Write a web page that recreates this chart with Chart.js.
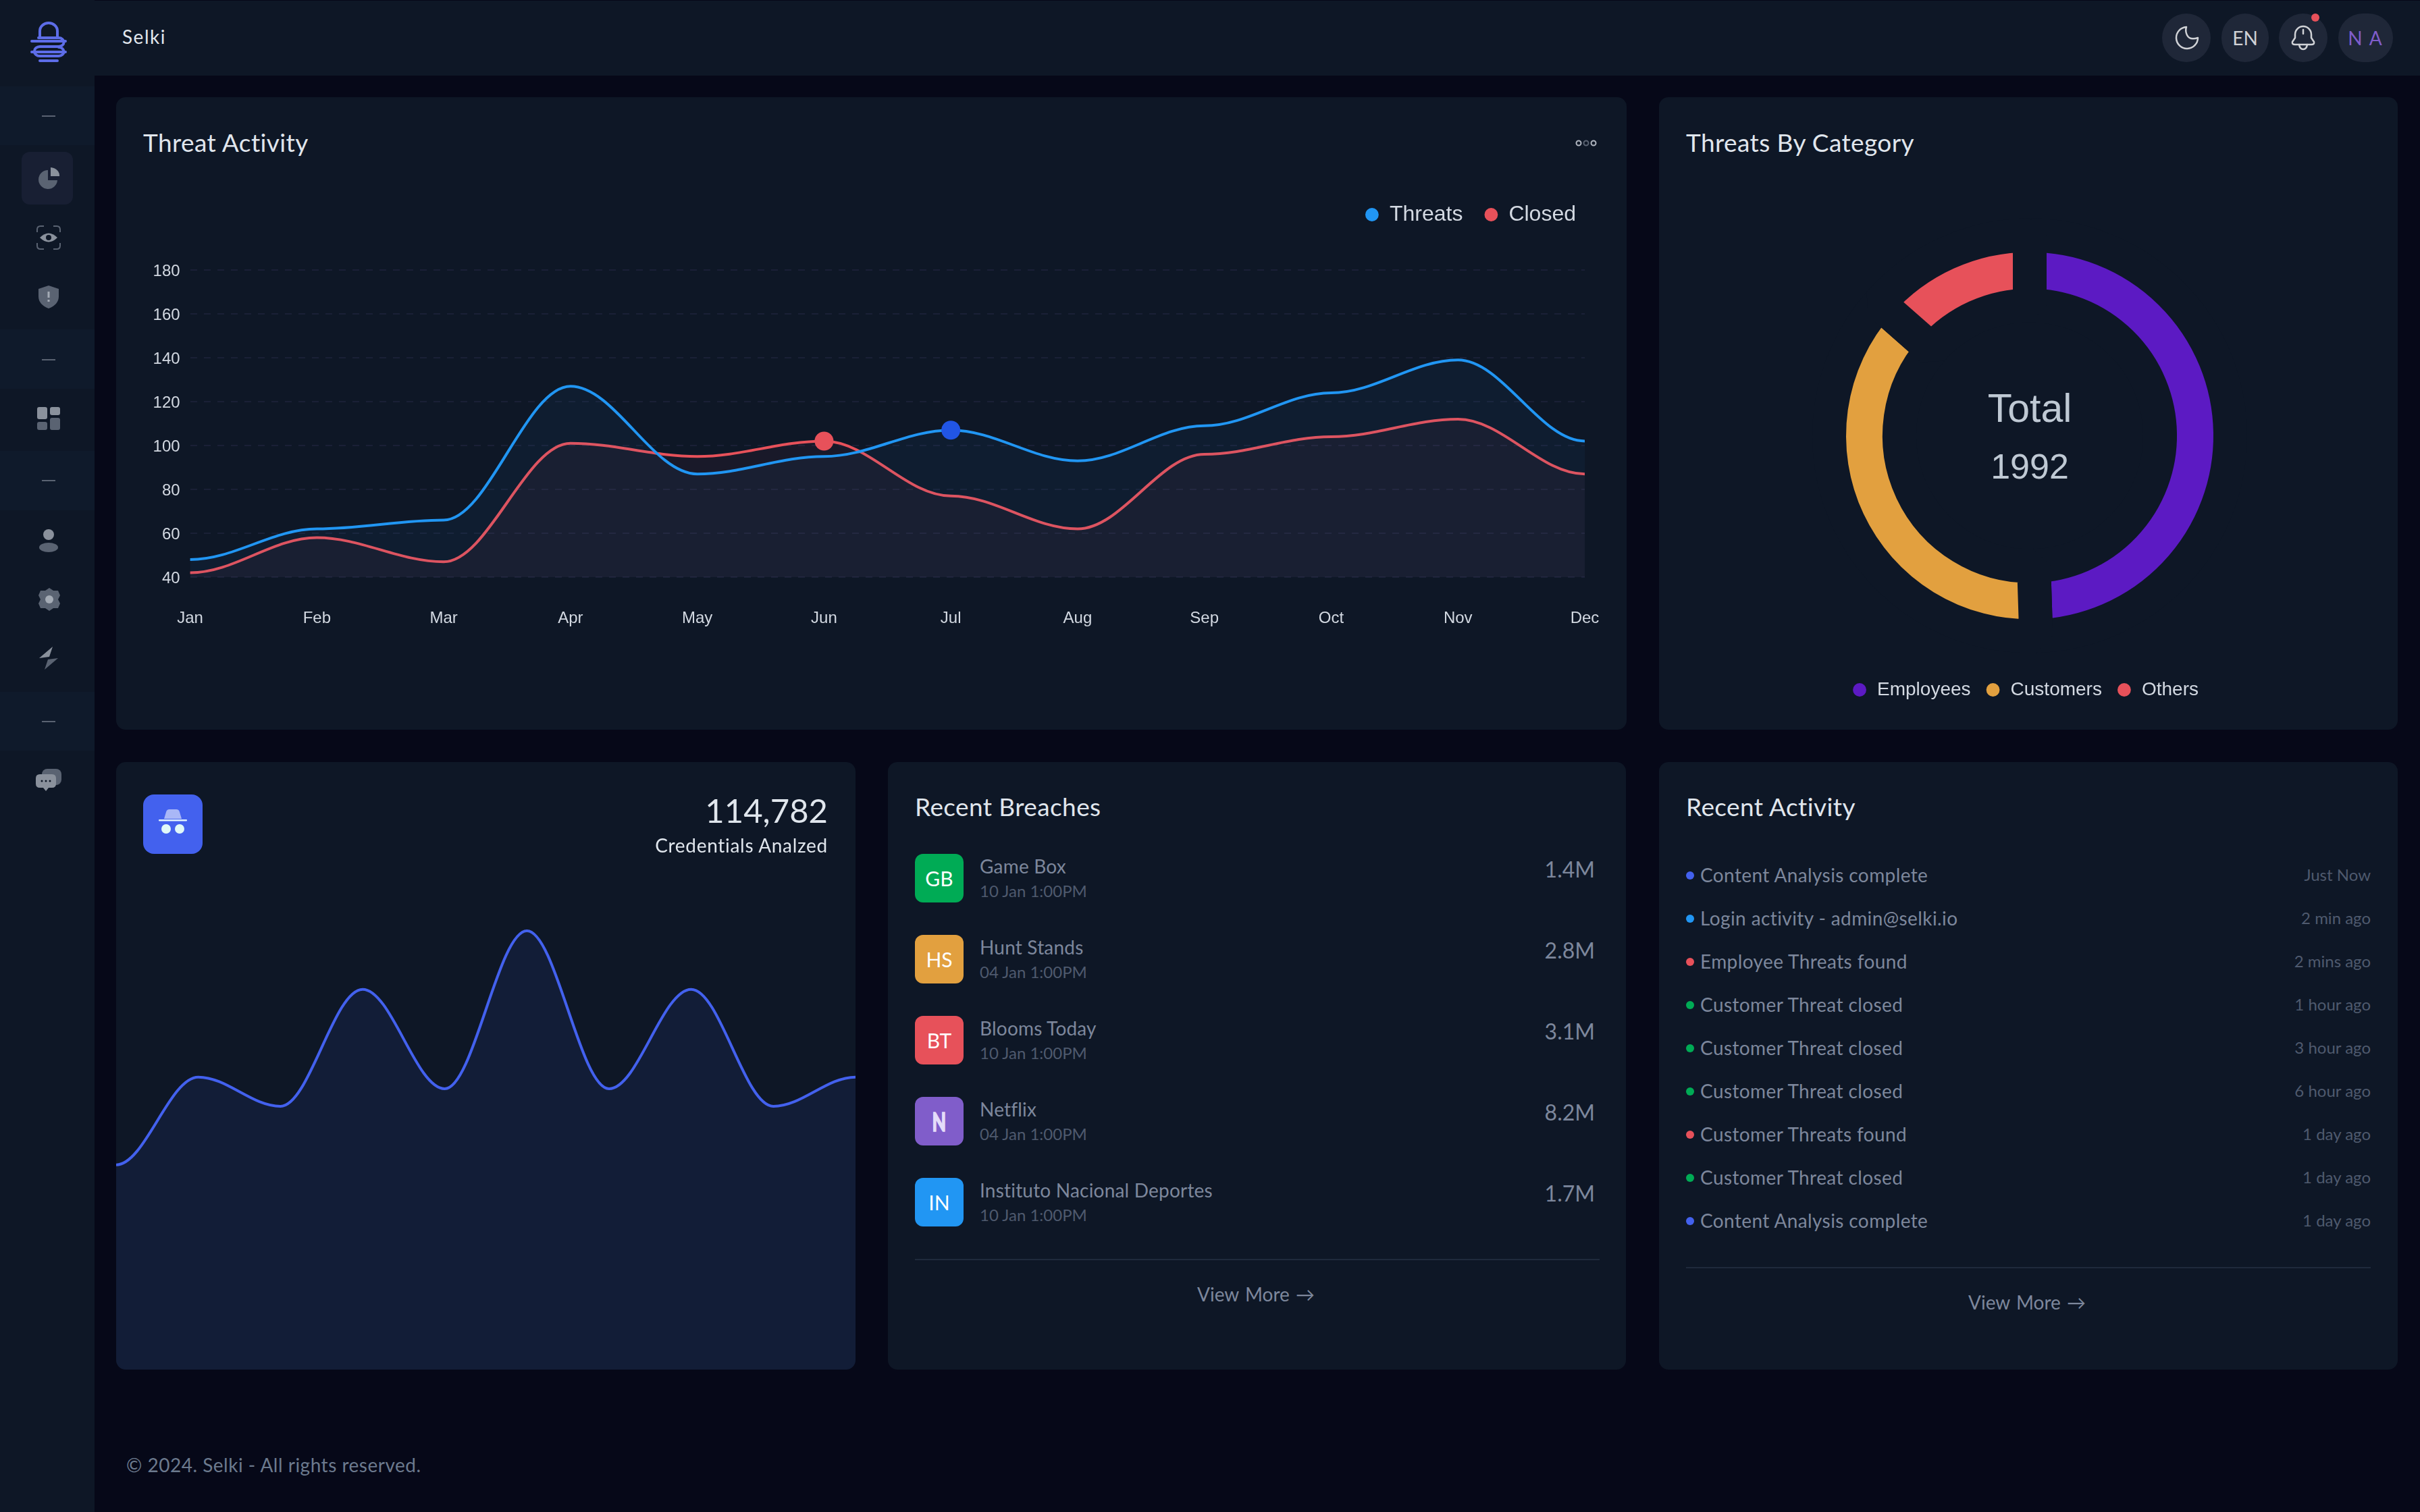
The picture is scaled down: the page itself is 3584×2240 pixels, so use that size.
<!DOCTYPE html>
<html>
<head>
<meta charset="utf-8">
<title>Selki</title>
<script src="https://cdn.jsdelivr.net/npm/chart.js@4"></script>
<style>
  html, body { margin: 0; padding: 0; background: #060818; }
  body { width: 3584px; height: 2240px; position: relative; overflow: hidden; font-family: Lato, sans-serif; color: #7d879c; }
  .abs { position: absolute; white-space: nowrap; line-height: 1; }
  .vc { transform: translateY(calc(-50% - 2px)); }
  .rt { transform: translate(-100%, calc(-50% - 2px)); }
  .ctr { transform: translate(-50%, calc(-50% - 2px)); }
  .card { position: absolute; background: #0e1726; border-radius: 14px; overflow: hidden; }
  .title { font-size: 37px; color: #e0e6ed; letter-spacing: .4px; }
  canvas { position: absolute; display: block; }
  .badge { position: absolute; left: 1355px; width: 72px; height: 72px; border-radius: 12px; color: #fff; font-size: 30px; display: flex; align-items: center; justify-content: center; }
  .dot { position: absolute; width: 12px; height: 12px; border-radius: 50%; transform: translate(-50%, -50%); }
  .sep { position: absolute; height: 2px; background: #1f2a3c; }
  .band { position: absolute; left: 0; width: 140px; background: #0f1a2b; }
  .dash { position: absolute; left: 62px; width: 20px; height: 2px; background: #5a6372; }
  .round { position: absolute; top: 20px; height: 72px; background: #1f2738; border-radius: 36px; color: #d0d2d6; display: flex; align-items: center; justify-content: center; font-size: 28px; }
  svg { position: absolute; overflow: visible; }
</style>
</head>
<body>

<!-- header + sidebar -->
<div style="position:absolute;left:0;top:0;width:140px;height:2240px;background:#0e1726"></div>
<div style="position:absolute;left:140px;top:1px;width:3444px;height:111px;background:#0e1726"></div>
<div class="band" style="top:128px;height:87px"></div>
<div class="band" style="top:488px;height:88px"></div>
<div class="band" style="top:668px;height:88px"></div>
<div class="band" style="top:1025px;height:87px"></div>
<div class="dash" style="top:171px"></div>
<div class="dash" style="top:532px"></div>
<div class="dash" style="top:711px"></div>
<div class="dash" style="top:1068px"></div>
<div style="position:absolute;left:32px;top:225px;width:76px;height:78px;background:#181f33;border-radius:12px"></div>

<svg style="left:45px;top:32px" width="54" height="62" viewBox="0 0 54 62" fill="none" stroke="#5d6de8" stroke-width="4" stroke-linecap="round">
  <path d="M14 24V14a13 12 0 0 1 26 0v10"/>
  <path d="M2 29h50M2 45h50"/>
  <path d="M12 24h30a7 6 0 0 1 0 13H14a7 6 0 0 0 0 14h28a7 6 0 0 0 0-13"/>
  <path d="M14 58h26"/>
</svg>
<!-- sidebar icons -->
<svg style="left:55px;top:248px" width="34" height="32" viewBox="0 0 34 32"><path d="M16 4a14 14 0 1 0 14 15H16z" fill="#5a6372"/><path d="M20 0a14 12 0 0 1 13 13H20z" fill="#8a919c"/></svg>
<svg style="left:54px;top:334px" width="36" height="36" viewBox="0 0 36 36" fill="none"><path d="M1 10V6q0-5 5-5h5M25 1h5q5 0 5 5v4M1 26v4q0 5 5 5h5M25 35h5q5 0 5-5v-4" stroke="#5a6372" stroke-width="2"/><path d="M5 18q13-13 26 0q-13 13-26 0z" fill="#8a919c"/><circle cx="18" cy="18" r="4" fill="#0e1726"/></svg>
<svg style="left:57px;top:423px" width="30" height="34" viewBox="0 0 30 34"><path d="M15 0l15 5v11q0 12-15 18Q0 28 0 16V5z" fill="#5a6372"/><rect x="13.5" y="9" width="3" height="9" fill="#a4abb5"/><rect x="13.5" y="21" width="3" height="3" fill="#a4abb5"/></svg>
<svg style="left:55px;top:603px" width="34" height="34" viewBox="0 0 34 34"><rect x="0" y="0" width="15" height="18" rx="3" fill="#8a919c"/><rect x="0" y="22" width="15" height="12" rx="3" fill="#5a6372"/><rect x="19" y="0" width="15" height="12" rx="3" fill="#8a919c"/><rect x="19" y="16" width="15" height="18" rx="3" fill="#5a6372"/></svg>
<svg style="left:58px;top:784px" width="28" height="34" viewBox="0 0 28 34"><circle cx="14" cy="8" r="8" fill="#8a919c"/><ellipse cx="14" cy="27" rx="14" ry="7" fill="#5a6372"/></svg>
<svg style="left:56px;top:871px" width="34" height="34" viewBox="0 0 34 34"><path d="M17 0l6 4 7 0 3 7-3 6 3 6-3 7-7 0-6 4-6-4-7 0-3-7 3-6-3-6 3-7 7 0z" fill="#5a6372"/><circle cx="17" cy="17" r="6" fill="#a4abb5"/></svg>
<svg style="left:58px;top:958px" width="28" height="34" viewBox="0 0 28 34"><path d="M0 17L20 0 15 15z" fill="#8a919c"/><path d="M28 17L8 34 13 19z" fill="#5a6372"/></svg>
<svg style="left:53px;top:1139px" width="38" height="38" viewBox="0 0 38 38"><rect x="9" y="0" width="29" height="24" rx="8" fill="#5a6372"/><path d="M6 8h18q6 0 6 6v8q0 6-6 6h-5l-4 5-4-5H6q-6 0-6-6v-8q0-6 6-6z" fill="#8a919c"/><circle cx="9" cy="18" r="1.5" fill="#0e1726"/><circle cx="15" cy="18" r="1.5" fill="#0e1726"/><circle cx="21" cy="18" r="1.5" fill="#0e1726"/></svg>

<div class="abs vc" style="left:181px;top:56px;font-size:28px;color:#e0e6ed;letter-spacing:1.5px">Selki</div>

<!-- header buttons -->
<div class="round" style="left:3202px;width:72px"></div>
<svg style="left:3220px;top:38px" width="36" height="36" viewBox="0 0 36 36" fill="none" stroke="#d0d2d6" stroke-width="2.5" stroke-linecap="round" stroke-linejoin="round"><path d="M18 2A16 16 0 1 0 35 18 Q23 22 19 14 Q16 8 18 2z"/></svg>
<div class="round" style="left:3290px;width:70px">EN</div>
<div class="round" style="left:3375px;width:72px"></div>
<svg style="left:3394px;top:38px" width="34" height="36" viewBox="0 0 34 36" fill="none" stroke="#d0d2d6" stroke-width="2.5" stroke-linecap="round" stroke-linejoin="round"><path d="M5 18V13a12 12 0 0 1 24 0v5l4 6q1 4-4 4H5q-5 0-4-4z"/><path d="M17 6v6M11 28q1 7 6 7t6-7"/></svg>
<div style="position:absolute;left:3423px;top:20px;width:12px;height:12px;border-radius:50%;background:#e7515a"></div>
<div class="round" style="left:3463px;width:81px;color:#805dca;letter-spacing:2px">N A</div>

<!-- threat activity -->
<div class="card" style="left:172px;top:144px;width:2237px;height:937px"></div>
<div class="abs vc title" style="left:212px;top:212px">Threat Activity</div>
<svg style="left:2333px;top:206px" width="32" height="12" viewBox="0 0 32 12" fill="none" stroke-width="2"><circle cx="5" cy="6" r="3.5" stroke="#b0b6c0"/><circle cx="16" cy="6" r="3.5" stroke="#5a6372"/><circle cx="27" cy="6" r="3.5" stroke="#b0b6c0"/></svg>
<canvas id="activityChart" width="2222" height="685" style="left:172px;top:270px"></canvas>

<!-- threats by category -->
<div class="card" style="left:2457px;top:144px;width:1094px;height:937px"></div>
<div class="abs vc title" style="left:2497px;top:212px">Threats By Category</div>
<canvas id="categoryChart" width="700" height="742" style="left:2656px;top:304px"></canvas>
<div class="abs ctr" id="totalLabel" style="left:3006px;top:607px;font-family:'Liberation Sans';font-size:59px;color:#bfc9d4"></div>
<div class="abs ctr" id="totalValue" style="left:3006px;top:693px;font-family:'Liberation Sans';font-size:52px;color:#bfc9d4"></div>

<!-- credentials -->
<div class="card" style="left:172px;top:1129px;width:1095px;height:900px"><canvas id="credentialsChart" width="1095" height="900" style="left:0;top:0"></canvas></div>
<div style="position:absolute;left:212px;top:1177px;width:88px;height:88px;border-radius:16px;background:#4361ee"></div>
<svg style="left:234px;top:1199px" width="44" height="44" viewBox="0 0 44 44"><path d="M12 4q1-4 5-4h10q4 0 5 4l3 10H9z" fill="#a9b7f7"/><rect x="1" y="15" width="42" height="2.5" rx="1" fill="#e0f2fe"/><circle cx="12" cy="29" r="7" fill="#e0f8f8"/><circle cx="32" cy="29" r="7" fill="#e0f8f8"/></svg>
<div class="abs rt" style="left:1226px;top:1202px;font-size:49px;color:#e0e6ed" id="credentialsTotal"></div>
<div class="abs rt" style="left:1226px;top:1254px;font-size:28px;color:#e0e6ed;letter-spacing:.7px">Credentials Analzed</div>

<!-- recent breaches -->
<div class="card" style="left:1315px;top:1129px;width:1093px;height:900px"></div>
<div class="abs vc title" style="left:1355px;top:1196px">Recent Breaches</div>
<div id="breachList"></div>
<div class="sep" style="left:1355px;top:1865px;width:1014px"></div>
<div class="abs ctr" style="left:1860px;top:1919px;font-size:28px;word-spacing:2px">View More &rarr;</div>

<!-- recent activity -->
<div class="card" style="left:2457px;top:1129px;width:1094px;height:900px"></div>
<div class="abs vc title" style="left:2497px;top:1196px">Recent Activity</div>
<div id="activityList"></div>
<div class="sep" style="left:2497px;top:1877px;width:1014px"></div>
<div class="abs ctr" style="left:3002px;top:1931px;font-size:28px;word-spacing:2px">View More &rarr;</div>

<div class="abs vc" style="left:187px;top:2172px;font-size:28px;color:#6c7a8e;letter-spacing:.5px">© 2024. Selki - All rights reserved.</div>

<script>
const months = ['Jan', 'Feb', 'Mar', 'Apr', 'May', 'Jun', 'Jul', 'Aug', 'Sep', 'Oct', 'Nov', 'Dec'];
const threats = [48, 62, 66, 127, 87, 95, 107, 93, 109, 124, 139, 102];
const closed = [42, 58, 47, 101, 95, 102, 77, 62, 96, 104, 112, 87];
const yTicksMin = 40;
const yTicksMax = 180;

const categories = ['Employees', 'Customers', 'Others'];
const categoryValues = [986, 737, 269];
const categoryColors = ['#5c1ac3', '#e2a03f', '#e7515a'];
const categoryTotal = 1992;

const credentials = [35, 50, 45, 65, 48, 75, 48, 65, 45, 50];
const credentialsTotal = '114,782';

const breachBadges = ['GB', 'HS', 'BT', 'N', 'IN'];
const breachColors = ['#00ab55', '#e2a03f', '#e7515a', '#805dca', '#2196f3'];
const breachNames = ['Game Box', 'Hunt Stands', 'Blooms Today', 'Netflix', 'Instituto Nacional Deportes'];
const breachDates = ['10 Jan 1:00PM', '04 Jan 1:00PM', '10 Jan 1:00PM', '04 Jan 1:00PM', '10 Jan 1:00PM'];
const breachSizes = ['1.4M', '2.8M', '3.1M', '8.2M', '1.7M'];

const activityNames = ['Content Analysis complete', 'Login activity - admin@selki.io', 'Employee Threats found', 'Customer Threat closed', 'Customer Threat closed', 'Customer Threat closed', 'Customer Threats found', 'Customer Threat closed', 'Content Analysis complete'];
const activityTimes = ['Just Now', '2 min ago', '2 mins ago', '1 hour ago', '3 hour ago', '6 hour ago', '1 day ago', '1 day ago', '1 day ago'];
const activityColors = ['#4361ee', '#2196f3', '#e7515a', '#00ab55', '#00ab55', '#00ab55', '#e7515a', '#00ab55', '#4361ee'];

const chartFont = 'Liberation Sans';
const cardColor = '#0e1726';

// the curves here leave every point flat, so the control points get reset before drawing
const flatCurve = {
  id: 'flatCurve',
  beforeDraw(chart) {
    chart.getSortedVisibleDatasetMetas().forEach(meta => {
      const pts = meta.data;
      meta.dataset.updateControlPoints(chart.chartArea, 'x');
      pts.forEach((p, i) => {
        if (pts[i - 1]) { p.cp1x = p.x - (p.x - pts[i - 1].x) * 0.35; p.cp1y = p.y; }
        if (pts[i + 1]) { p.cp2x = p.x + (pts[i + 1].x - p.x) * 0.35; p.cp2y = p.y; }
      });
      meta.dataset._path = undefined;
    });
  }
};

// moves the legend sideways without moving the plot
const nudgeLegend = {
  id: 'nudgeLegend',
  afterLayout(chart, args, opts) {
    chart.legend.left -= opts.by;
    chart.legend.right -= opts.by;
  }
};

const activityChart = new Chart(document.getElementById('activityChart'), {
  type: 'line',
  plugins: [flatCurve, nudgeLegend],
  data: {
    labels: months,
    datasets: [{
      label: 'Threats',
      data: threats,
      borderColor: '#2196f3',
      backgroundColor: 'rgba(33, 150, 243, 0.05)',
      pointBackgroundColor: ctx => ctx.dataIndex === 6 ? '#2155e5' : '#2196f3',
      pointRadius: ctx => ctx.dataIndex === 6 ? 14 : 0,
      pointBorderWidth: 0,
      borderWidth: 4,
      tension: 0.4,
      fill: 'start',
    }, {
      label: 'Closed',
      data: closed,
      borderColor: '#e7515a',
      backgroundColor: 'rgba(231, 81, 90, 0.05)',
      pointBackgroundColor: '#e7515a',
      pointRadius: ctx => ctx.dataIndex === 5 ? 14 : 0,
      pointBorderWidth: 0,
      borderWidth: 4,
      tension: 0.4,
      fill: 'start',
    }]
  },
  options: {
    responsive: false,
    animation: false,
    plugins: {
      nudgeLegend: { by: 28 },
      tooltip: { enabled: false },
      legend: {
        position: 'top',
        align: 'end',
        labels: {
          usePointStyle: true,
          pointStyle: 'circle',
          boxWidth: 20,
          boxHeight: 14,
          padding: 32,
          color: '#d3d9e2',
          font: { family: chartFont, size: 32 },
        }
      },
      // keeps the gap between the legend and the plot
      subtitle: { display: true, weight: 900, text: ' ', font: { size: 1, lineHeight: 1 }, padding: { top: 0, bottom: 55 } },
    },
    scales: {
      x: {
        border: { display: false },
        grid: { display: false },
        ticks: { color: '#d3d9e2', font: { family: chartFont, size: 24 }, padding: 39, maxRotation: 0, autoSkip: false },
        afterFit(scale) { scale.height = 100; scale.paddingRight = 47; scale.paddingLeft = 0; },
      },
      y: {
        min: yTicksMin,
        max: yTicksMax,
        border: { display: false, dash: [10, 10] },
        grid: { color: '#1a2036', lineWidth: 2, drawTicks: false },
        ticks: { stepSize: 20, color: '#d3d9e2', font: { family: chartFont, size: 24 }, padding: 15, labelOffset: 2 },
        afterFit(scale) { scale.width = 109.6; },
      }
    }
  }
});

const categoryChart = new Chart(document.getElementById('categoryChart'), {
  type: 'doughnut',
  plugins: [nudgeLegend],
  data: {
    labels: categories,
    datasets: [{
      data: categoryValues,
      backgroundColor: categoryColors,
      // thick border in the card colour makes the parallel gaps and trims the ring
      borderColor: cardColor,
      borderWidth: 50,
    }]
  },
  options: {
    responsive: false,
    animation: false,
    radius: 297,
    cutout: '65%',
    plugins: {
      nudgeLegend: { by: 7 },
      tooltip: { enabled: false },
      legend: {
        position: 'bottom',
        labels: {
          usePointStyle: true,
          boxWidth: 24,
          boxHeight: 14,
          padding: 21,
          color: '#d3d9e2',
          font: { family: chartFont, size: 28 },
          generateLabels: () => categories.map((text, i) => ({
            text,
            fillStyle: categoryColors[i],
            strokeStyle: categoryColors[i],
            lineWidth: 0,
            pointStyle: 'circle',
            fontColor: '#d3d9e2',
            index: i,
          })),
        }
      }
    }
  }
});

const credentialsChart = new Chart(document.getElementById('credentialsChart'), {
  type: 'line',
  plugins: [flatCurve],
  data: {
    labels: credentials.map((v, i) => i + 1),
    datasets: [{
      data: credentials,
      borderColor: '#4361ee',
      backgroundColor: 'rgba(67, 97, 238, 0.09)',
      pointRadius: 0,
      borderWidth: 4,
      tension: 0.4,
      fill: 'start',
      clip: false,
    }]
  },
  options: {
    responsive: false,
    animation: false,
    layout: { padding: { top: 250 } },
    plugins: { legend: { display: false }, tooltip: { enabled: false } },
    scales: {
      x: { display: false },
      y: { display: false, min: 0, max: 75 },
    }
  }
});

document.getElementById('totalLabel').textContent = 'Total';
document.getElementById('totalValue').textContent = categoryTotal;
document.getElementById('credentialsTotal').textContent = credentialsTotal;

// right hand lists
let breachHtml = '';
breachNames.forEach((name, i) => {
  const top = 1265 + i * 120;
  const extra = breachBadges[i] === 'N' ? 'font-weight:900;font-size:38px;transform:scaleX(.7);color:#e4dcfa;-webkit-text-stroke:1.5px #e4dcfa' : '';
  breachHtml += `<div class="badge" style="top:${top}px;background:${breachColors[i]}"><span style="display:inline-block;${extra}">${breachBadges[i]}</span></div>`
    + `<div class="abs vc" style="left:1451px;top:${top + 20}px;font-size:28px;letter-spacing:.2px">${name}</div>`
    + `<div class="abs vc" style="left:1451px;top:${top + 57}px;font-size:24px;color:#4f5a6e">${breachDates[i]}</div>`
    + `<div class="abs rt" style="left:2362px;top:${top + 25}px;font-size:32px">${breachSizes[i]}</div>`;
});
document.getElementById('breachList').innerHTML = breachHtml;

let activityHtml = '';
activityNames.forEach((name, i) => {
  const top = 1297 + i * 64;
  activityHtml += `<div class="dot" style="left:2503px;top:${top}px;background:${activityColors[i]}"></div>`
    + `<div class="abs vc" style="left:2518px;top:${top + 1}px;font-size:28px;letter-spacing:.4px">${name}</div>`
    + `<div class="abs rt" style="left:3511px;top:${top + 1}px;font-size:24px;color:#4f5a6e">${activityTimes[i]}</div>`;
});
document.getElementById('activityList').innerHTML = activityHtml;
</script>
</body>
</html>
